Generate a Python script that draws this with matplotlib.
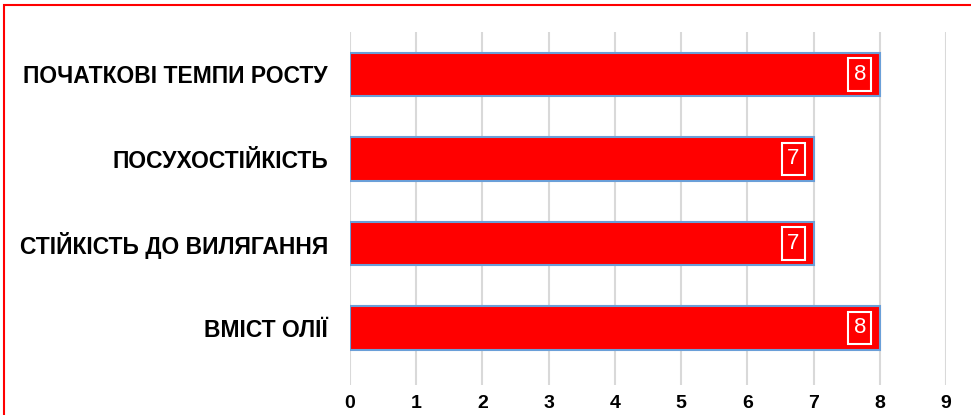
import matplotlib.pyplot as plt
from matplotlib.patches import Rectangle

# categories from top to bottom
categories = ['ПОЧАТКОВІ ТЕМПИ РОСТУ', 'ПОСУХОСТІЙКІСТЬ',
              'СТІЙКІСТЬ ДО ВИЛЯГАННЯ', 'ВМІСТ ОЛІЇ']
scores = [8, 7, 7, 8]
x_ticks = list(range(0, 10))

fig = plt.figure(figsize=(9.71, 4.15), dpi=100)
ax = fig.add_axes([350 / 971, 1 - 385 / 415, 596 / 971, 353 / 415])

pos = list(range(len(categories)))
ax.barh(pos, scores, height=0.51, color='#ff0000', edgecolor='#6a9fd8',
        linewidth=1.5, zorder=3)

for p, v in zip(pos, scores):
    ax.annotate(str(v), (v, p), xytext=(-10, 0), textcoords='offset points',
                ha='right', va='center', color='white', fontsize=16,
                family='Liberation Sans', zorder=4,
                bbox=dict(boxstyle='square,pad=0.25', fc='none', ec='white', lw=1.5))

ax.set_xlim(0, 9)
ax.set_ylim(3.675, -0.503)
ax.set_xticks(x_ticks)
ax.set_yticks(pos)
ax.set_yticklabels(categories, fontsize=16.5, fontweight='bold', family='Liberation Sans')
for lab in ax.get_xticklabels():
    lab.set_fontsize(14)
    lab.set_fontweight('bold')
    lab.set_family('Liberation Sans')
ax.tick_params(axis='both', length=0)
ax.tick_params(axis='x', pad=7)
ax.tick_params(axis='y', pad=16)
ax.grid(axis='x', color='#d9d9d9', linewidth=1.5, zorder=0)
for s in ax.spines.values():
    s.set_visible(False)

# red frame around the chart area
fig.patches.append(Rectangle((4 / 971, -0.1), 1.2, 1 - 5 / 415 + 0.1,
                             transform=fig.transFigure, fill=False,
                             edgecolor='#ff0000', linewidth=1.5))

plt.savefig('out.png', dpi=100)
